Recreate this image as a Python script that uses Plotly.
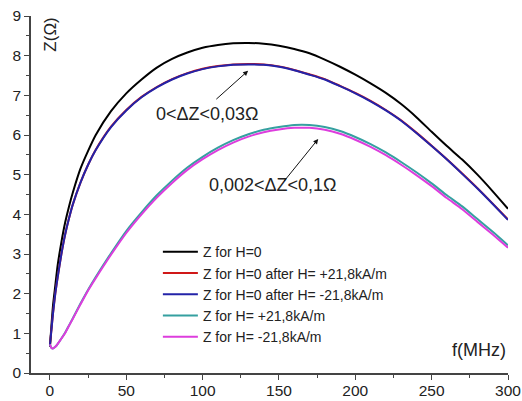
import plotly.graph_objects as go

f = [0, 1, 2, 3.5, 5, 7.5, 10, 12.5, 15, 20, 25, 30, 40, 50, 60, 70, 80, 90, 100,
     110, 120, 130, 140, 150, 160, 170, 180, 190, 200, 210, 220, 230, 240, 250,
     260, 270, 280, 290, 300]

z_h0 = [0.66, 1.2, 1.7, 2.2, 2.7, 3.3, 3.8, 4.2, 4.55, 5.15, 5.6, 6.0, 6.6, 7.05, 7.4,
        7.7, 7.92, 8.08, 8.2, 8.27, 8.31, 8.32, 8.3, 8.25, 8.17, 8.06, 7.9, 7.72,
        7.52, 7.3, 7.06, 6.78, 6.45, 6.08, 5.72, 5.38, 5.0, 4.58, 4.14]

z_h0_after_pos = [0.7, 1.1, 1.5, 2.0, 2.4, 3.0, 3.5, 3.9, 4.25, 4.8, 5.25, 5.63, 6.21,
                  6.63, 6.96, 7.21, 7.41, 7.56, 7.67, 7.74, 7.78, 7.79, 7.78, 7.73,
                  7.64, 7.53, 7.41, 7.24, 7.06, 6.86, 6.63, 6.37, 6.06, 5.73, 5.39,
                  5.03, 4.66, 4.27, 3.87]

z_h0_after_neg = [0.7, 1.1, 1.5, 2.0, 2.4, 3.0, 3.5, 3.9, 4.25, 4.8, 5.25, 5.62, 6.2,
                  6.62, 6.95, 7.2, 7.4, 7.55, 7.66, 7.73, 7.77, 7.78, 7.77, 7.72,
                  7.63, 7.52, 7.4, 7.23, 7.05, 6.85, 6.62, 6.36, 6.05, 5.72, 5.38,
                  5.02, 4.65, 4.26, 3.86]

z_hpos = [0.72, 0.63, 0.62, 0.66, 0.73, 0.87, 1.02, 1.2, 1.38, 1.75, 2.1, 2.42, 3.02,
          3.58, 4.05, 4.48, 4.85, 5.18, 5.45, 5.68, 5.87, 6.02, 6.13, 6.2, 6.25, 6.25,
          6.2, 6.1, 5.95, 5.77, 5.56, 5.32, 5.06, 4.78, 4.48, 4.2, 3.88, 3.56, 3.22]

z_hneg = [0.72, 0.63, 0.62, 0.66, 0.73, 0.87, 1.01, 1.19, 1.37, 1.73, 2.08, 2.39, 2.98,
          3.53, 4.0, 4.42, 4.79, 5.12, 5.39, 5.62, 5.81, 5.96, 6.07, 6.14, 6.18, 6.18,
          6.13, 6.03, 5.88, 5.7, 5.49, 5.25, 4.99, 4.71, 4.41, 4.13, 3.81, 3.49, 3.16]

names = ["Z for H=0", "Z for H=0 after H= +21,8kA/m", "Z for H=0 after H= -21,8kA/m",
         "Z for H= +21,8kA/m", "Z for H= -21,8kA/m"]
series = [z_h0, z_h0_after_pos, z_h0_after_neg, z_hpos, z_hneg]
colors = ["#000000", "#d01818", "#2323a8", "#35a0a0", "#dd3ddd"]

x_ticks = [0, 50, 100, 150, 200, 250, 300]
y_ticks = [0, 1, 2, 3, 4, 5, 6, 7, 8, 9]

font = "Arial, Liberation Sans, sans-serif"

fig = go.Figure()
for name, ys, c in zip(names, series, colors):
    fig.add_trace(go.Scatter(x=f, y=ys, mode="lines", name=name,
                             line=dict(color=c, width=2, shape="spline", smoothing=0.6)))

axis_common = dict(showline=True, linecolor="#444", linewidth=1.5, showgrid=False,
                   zeroline=False, ticks="outside", ticklen=5, tickwidth=1.2,
                   tickcolor="#444", automargin=False,
                   tickfont=dict(family=font, size=15.5, color="#222"),
                   minor=dict(ticks="outside", ticklen=3, tickwidth=1.2, tickcolor="#444"))

fig.update_xaxes(range=[-12.4, 300], tickvals=x_ticks, ticktext=[str(v) for v in x_ticks],
                 minor_dtick=25, minor_tick0=0, ticklabelstandoff=-2, **axis_common)
fig.update_yaxes(range=[0, 9], tickvals=y_ticks, ticktext=[str(v) for v in y_ticks],
                 minor_dtick=0.5, minor_tick0=0, **axis_common)

fig.update_layout(
    width=522, height=401,
    margin=dict(l=31, r=14, t=16, b=28, autoexpand=False),
    plot_bgcolor="white", paper_bgcolor="white",
    showlegend=True,
    legend=dict(x=0.266, y=0.383, xanchor="left", yanchor="top",
                bgcolor="rgba(0,0,0,0)", font=dict(family=font, size=14, color="#222"),
                tracegroupgap=0, itemwidth=35),
    annotations=[
        dict(x=0.015, y=1.0, xref="paper", yref="paper", text="Z(Ω)", textangle=-90,
             showarrow=False, xanchor="left", yanchor="top",
             font=dict(family=font, size=17, color="#222")),
        dict(x=1.0, y=0.03, xref="paper", yref="paper", text="f(MHz)", showarrow=False,
             xanchor="right", yanchor="bottom", font=dict(family=font, size=18, color="#222")),
        dict(x=103.5, y=6.52, text="0<ΔZ<0,03Ω", showarrow=False,
             font=dict(family=font, size=18, color="#222")),
        dict(x=146, y=4.73, text="0,002<ΔZ<0,1Ω", showarrow=False,
             font=dict(family=font, size=18, color="#222")),
        dict(x=129.8, y=7.62, ax=108, ay=6.87, axref="x", ayref="y", text="",
             showarrow=True, arrowhead=2, arrowsize=1, arrowwidth=1, arrowcolor="#111"),
        dict(x=175.7, y=5.9, ax=152.6, ay=4.8, axref="x", ayref="y", text="",
             showarrow=True, arrowhead=2, arrowsize=1, arrowwidth=1, arrowcolor="#111"),
    ],
)

fig.write_html("out.html")
